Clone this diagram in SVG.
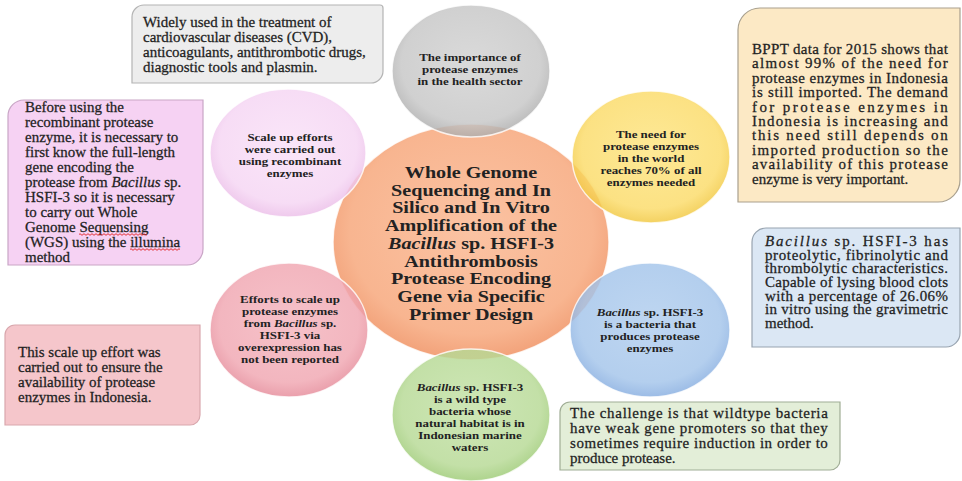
<svg xmlns="http://www.w3.org/2000/svg" width="962" height="481" viewBox="0 0 962 481">
  <defs>
    <radialGradient id="gOrange" cx="50%" cy="45%" r="55%">
      <stop offset="0" stop-color="#fbc3a3"/>
      <stop offset="0.8" stop-color="#f8b590"/>
      <stop offset="1" stop-color="#f2a27a"/>
    </radialGradient>
    <radialGradient id="gGray" cx="50%" cy="45%" r="55%">
      <stop offset="0" stop-color="#d2d2d2"/>
      <stop offset="0.8" stop-color="#c6c6c6"/>
      <stop offset="1" stop-color="#adadad"/>
    </radialGradient>
    <radialGradient id="gYellow" cx="50%" cy="45%" r="55%">
      <stop offset="0" stop-color="#fde47f"/>
      <stop offset="0.8" stop-color="#fbdb68"/>
      <stop offset="1" stop-color="#f1c73e"/>
    </radialGradient>
    <radialGradient id="gBlue" cx="50%" cy="45%" r="55%">
      <stop offset="0" stop-color="#b0cdee"/>
      <stop offset="0.8" stop-color="#a3c4ea"/>
      <stop offset="1" stop-color="#86ade0"/>
    </radialGradient>
    <radialGradient id="gGreen" cx="50%" cy="45%" r="55%">
      <stop offset="0" stop-color="#c3e1a6"/>
      <stop offset="0.8" stop-color="#b6d994"/>
      <stop offset="1" stop-color="#9cca74"/>
    </radialGradient>
    <radialGradient id="gPink" cx="50%" cy="45%" r="55%">
      <stop offset="0" stop-color="#f4b4bd"/>
      <stop offset="0.8" stop-color="#f0a6b1"/>
      <stop offset="1" stop-color="#e58a99"/>
    </radialGradient>
    <radialGradient id="gLav" cx="50%" cy="45%" r="55%">
      <stop offset="0" stop-color="#f9e0f7"/>
      <stop offset="0.8" stop-color="#f5d5f3"/>
      <stop offset="1" stop-color="#ebbde8"/>
    </radialGradient>
  </defs>
  <style>
    text { font-family: "Liberation Serif", "Times New Roman", serif; fill: #222222; }
    .bt { font-size: 14px; stroke: #222222; stroke-width: 0.25; }
    .ct { font-size: 10.5px; font-weight: bold; text-anchor: middle; }
    .tt { font-size: 17.5px; font-weight: bold; text-anchor: middle; }
    .it { font-style: italic; }
    .ring { fill-opacity: 0.82; stroke: #ffffff; stroke-width: 1.5; stroke-opacity: 0.8; }
    .box { stroke-width: 1.2; }
    .wavy { fill: none; stroke: #e02020; stroke-width: 0.9; }
  </style>

  <rect width="962" height="481" fill="#ffffff"/>

  <!-- text boxes -->
  <g id="box-health-uses">
    <path class="box" d="M144,5 H380 Q383,5 383,8 V71 A12,12 0 0 1 371,83 H132 V17 A12,12 0 0 1 144,5 Z" fill="#ededed" stroke="#b4b4b4"/>
    <g transform="translate(143 0) scale(1.07 1)" class="bt">
      <text x="0" y="27">Widely used in the treatment of</text>
      <text x="0" y="42">cardiovascular diseases (CVD),</text>
      <text x="0" y="57">anticoagulants, antithrombotic drugs,</text>
      <text x="0" y="72">diagnostic tools and plasmin.</text>
    </g>
  </g>

  <g id="box-wgs">
    <path class="box" d="M24,100 H203 V249 A16,16 0 0 1 187,265 H8 V116 A16,16 0 0 1 24,100 Z" fill="#f6d2f3" stroke="#c9a6c6"/>
    <g transform="translate(25 0) scale(1.07 1)" class="bt">
      <text x="0" y="112">Before using the</text>
      <text x="0" y="127">recombinant protease</text>
      <text x="0" y="142">enzyme, it is necessary to</text>
      <text x="0" y="157">first know the full-length</text>
      <text x="0" y="172">gene encoding the</text>
      <text x="0" y="187">protease from <tspan class="it">Bacillus</tspan> sp.</text>
      <text x="0" y="202">HSFI-3 so it is necessary</text>
      <text x="0" y="217">to carry out Whole</text>
      <text x="0" y="232">Genome Sequensing</text>
      <text x="0" y="247">(WGS) using the illumina</text>
      <text x="0" y="262">method</text>
    </g>
    <path class="wavy" d="M79,234.5 q1,-1.6 2,0 t2,0 t2,0 t2,0 t2,0 t2,0 t2,0 t2,0 t2,0 t2,0 t2,0 t2,0 t2,0 t2,0 t2,0 t2,0 t2,0 t2,0 t2,0 t2,0 t2,0 t2,0 t2,0 t2,0 t2,0 t2,0 t2,0 t2,0 t2,0 t2,0 t2,0 t2,0 t2,0 t2,0"/>
    <path class="wavy" d="M130,249.5 q1,-1.6 2,0 t2,0 t2,0 t2,0 t2,0 t2,0 t2,0 t2,0 t2,0 t2,0 t2,0 t2,0 t2,0 t2,0 t2,0 t2,0 t2,0 t2,0 t2,0 t2,0 t2,0 t2,0 t2,0 t2,0 t2,0"/>
  </g>

  <g id="box-availability">
    <path class="box" d="M15,325 H200 V415 A10,10 0 0 1 190,425 H5 V335 A10,10 0 0 1 15,325 Z" fill="#f5c6cb" stroke="#d9a7ad"/>
    <g transform="translate(18 0) scale(1.07 1)" class="bt">
      <text x="0" y="357">This scale up effort was</text>
      <text x="0" y="372">carried out to ensure the</text>
      <text x="0" y="387">availability of protease</text>
      <text x="0" y="402">enzymes in Indonesia.</text>
    </g>
  </g>

  <g id="box-bppt">
    <path class="box" d="M760,8 H960 V180 A22,22 0 0 1 938,202 H738 V30 A22,22 0 0 1 760,8 Z" fill="#fce9c5" stroke="#a9a08e"/>
    <g transform="translate(752 0) scale(1.07 1)" class="bt">
      <text x="0" y="54" textLength="183" lengthAdjust="spacing">BPPT data for 2015 shows that</text>
      <text x="0" y="68.4" textLength="183" lengthAdjust="spacing">almost 99% of the need for</text>
      <text x="0" y="82.8" textLength="183" lengthAdjust="spacing">protease enzymes in Indonesia</text>
      <text x="0" y="97.2" textLength="183" lengthAdjust="spacing">is still imported. The demand</text>
      <text x="0" y="111.6" textLength="183" lengthAdjust="spacing">for protease enzymes in</text>
      <text x="0" y="126" textLength="183" lengthAdjust="spacing">Indonesia is increasing and</text>
      <text x="0" y="140.4" textLength="183" lengthAdjust="spacing">this need still depends on</text>
      <text x="0" y="154.8" textLength="183" lengthAdjust="spacing">imported production so the</text>
      <text x="0" y="169.2" textLength="183" lengthAdjust="spacing">availability of this protease</text>
      <text x="0" y="183.6">enzyme is very important.</text>
    </g>
  </g>

  <g id="box-characteristics">
    <path class="box" d="M766,228 H960 V333 A14,14 0 0 1 946,347 H752 V242 A14,14 0 0 1 766,228 Z" fill="#dbe7f4" stroke="#98a4b0"/>
    <g transform="translate(765 0) scale(1.07 1)" class="bt">
      <text x="0" y="246" textLength="171" lengthAdjust="spacing"><tspan class="it">Bacillus</tspan> sp. HSFI-3 has</text>
      <text x="0" y="259.7" textLength="171" lengthAdjust="spacing">proteolytic, fibrinolytic and</text>
      <text x="0" y="273.4" textLength="171" lengthAdjust="spacing">thrombolytic characteristics.</text>
      <text x="0" y="287.1" textLength="171" lengthAdjust="spacing">Capable of lysing blood clots</text>
      <text x="0" y="300.8" textLength="171" lengthAdjust="spacing">with a percentage of 26.06%</text>
      <text x="0" y="314.5" textLength="171" lengthAdjust="spacing">in vitro using the gravimetric</text>
      <text x="0" y="328.2">method.</text>
    </g>
  </g>

  <g id="box-challenge">
    <path class="box" d="M570,402 H840 V460 A10,10 0 0 1 830,470 H560 V412 A10,10 0 0 1 570,402 Z" fill="#e3eed8" stroke="#a0ad95"/>
    <g transform="translate(570 0) scale(1.07 1)" class="bt">
      <text x="0" y="418" textLength="241" lengthAdjust="spacing">The challenge is that wildtype bacteria</text>
      <text x="0" y="433" textLength="241" lengthAdjust="spacing">have weak gene promoters so that they</text>
      <text x="0" y="448" textLength="241" lengthAdjust="spacing">sometimes require induction in order to</text>
      <text x="0" y="463">produce protease.</text>
    </g>
  </g>

  <!-- central topic -->
  <g id="node-center">
    <ellipse cx="471" cy="242" rx="138" ry="118" fill="url(#gOrange)" stroke="#ffffff" stroke-width="1.5" stroke-opacity="0.8"/>
    <g transform="translate(471 0) scale(1.15 1)" class="tt">
      <text x="0" y="178">Whole Genome</text>
      <text x="0" y="195.75">Sequencing and In</text>
      <text x="0" y="213.5">Silico and In Vitro</text>
      <text x="0" y="231.25">Amplification of the</text>
      <text x="0" y="249"><tspan class="it">Bacillus</tspan> sp. HSFI-3</text>
      <text x="0" y="266.75">Antithrombosis</text>
      <text x="0" y="284.5">Protease Encoding</text>
      <text x="0" y="302.25">Gene via Specific</text>
      <text x="0" y="320">Primer Design</text>
    </g>
  </g>

  <!-- surrounding circles -->
  <g id="node-health">
    <ellipse class="ring" cx="471" cy="71" rx="79" ry="66" fill="url(#gGray)"/>
    <g transform="translate(470 0) scale(1.23 1)" class="ct">
      <text x="0" y="61.5">The importance of</text>
      <text x="0" y="73.5">protease enzymes</text>
      <text x="0" y="85.5">in the health sector</text>
    </g>
  </g>

  <g id="node-world-need">
    <ellipse class="ring" cx="651" cy="157" rx="79" ry="66" fill="url(#gYellow)"/>
    <g transform="translate(651 0) scale(1.23 1)" class="ct">
      <text x="0" y="138.5">The need for</text>
      <text x="0" y="150.5">protease enzymes</text>
      <text x="0" y="162.5">in the world</text>
      <text x="0" y="174.5">reaches 70% of all</text>
      <text x="0" y="186.5">enzymes needed</text>
    </g>
  </g>

  <g id="node-producer">
    <ellipse class="ring" cx="650" cy="330" rx="80" ry="67" fill="url(#gBlue)"/>
    <g transform="translate(650 0) scale(1.23 1)" class="ct">
      <text x="0" y="316.5"><tspan class="it">Bacillus</tspan> sp. HSFI-3</text>
      <text x="0" y="328.5">is a bacteria that</text>
      <text x="0" y="340.5">produces protease</text>
      <text x="0" y="352.5">enzymes</text>
    </g>
  </g>

  <g id="node-wildtype">
    <ellipse class="ring" cx="471" cy="415" rx="79" ry="66" fill="url(#gGreen)"/>
    <g transform="translate(470 0) scale(1.23 1)" class="ct">
      <text x="0" y="391.5"><tspan class="it">Bacillus</tspan> sp. HSFI-3</text>
      <text x="0" y="403.5">is a wild type</text>
      <text x="0" y="415.5">bacteria whose</text>
      <text x="0" y="427.5">natural habitat is in</text>
      <text x="0" y="439.5">Indonesian marine</text>
      <text x="0" y="451.5">waters</text>
    </g>
  </g>

  <g id="node-overexpression">
    <ellipse class="ring" cx="289" cy="330" rx="79" ry="67" fill="url(#gPink)"/>
    <g transform="translate(290 0) scale(1.23 1)" class="ct">
      <text x="0" y="303.5">Efforts to scale up</text>
      <text x="0" y="315.5">protease enzymes</text>
      <text x="0" y="327.5">from <tspan class="it">Bacillus</tspan> sp.</text>
      <text x="0" y="339.5">HSFI-3 via</text>
      <text x="0" y="351.5">overexpression has</text>
      <text x="0" y="363.5">not been reported</text>
    </g>
  </g>

  <g id="node-recombinant">
    <ellipse class="ring" cx="288" cy="153" rx="78" ry="64" fill="url(#gLav)"/>
    <g transform="translate(290 0) scale(1.23 1)" class="ct">
      <text x="0" y="141.5">Scale up efforts</text>
      <text x="0" y="153.5">were carried out</text>
      <text x="0" y="165.5">using recombinant</text>
      <text x="0" y="177.5">enzymes</text>
    </g>
  </g>
</svg>
